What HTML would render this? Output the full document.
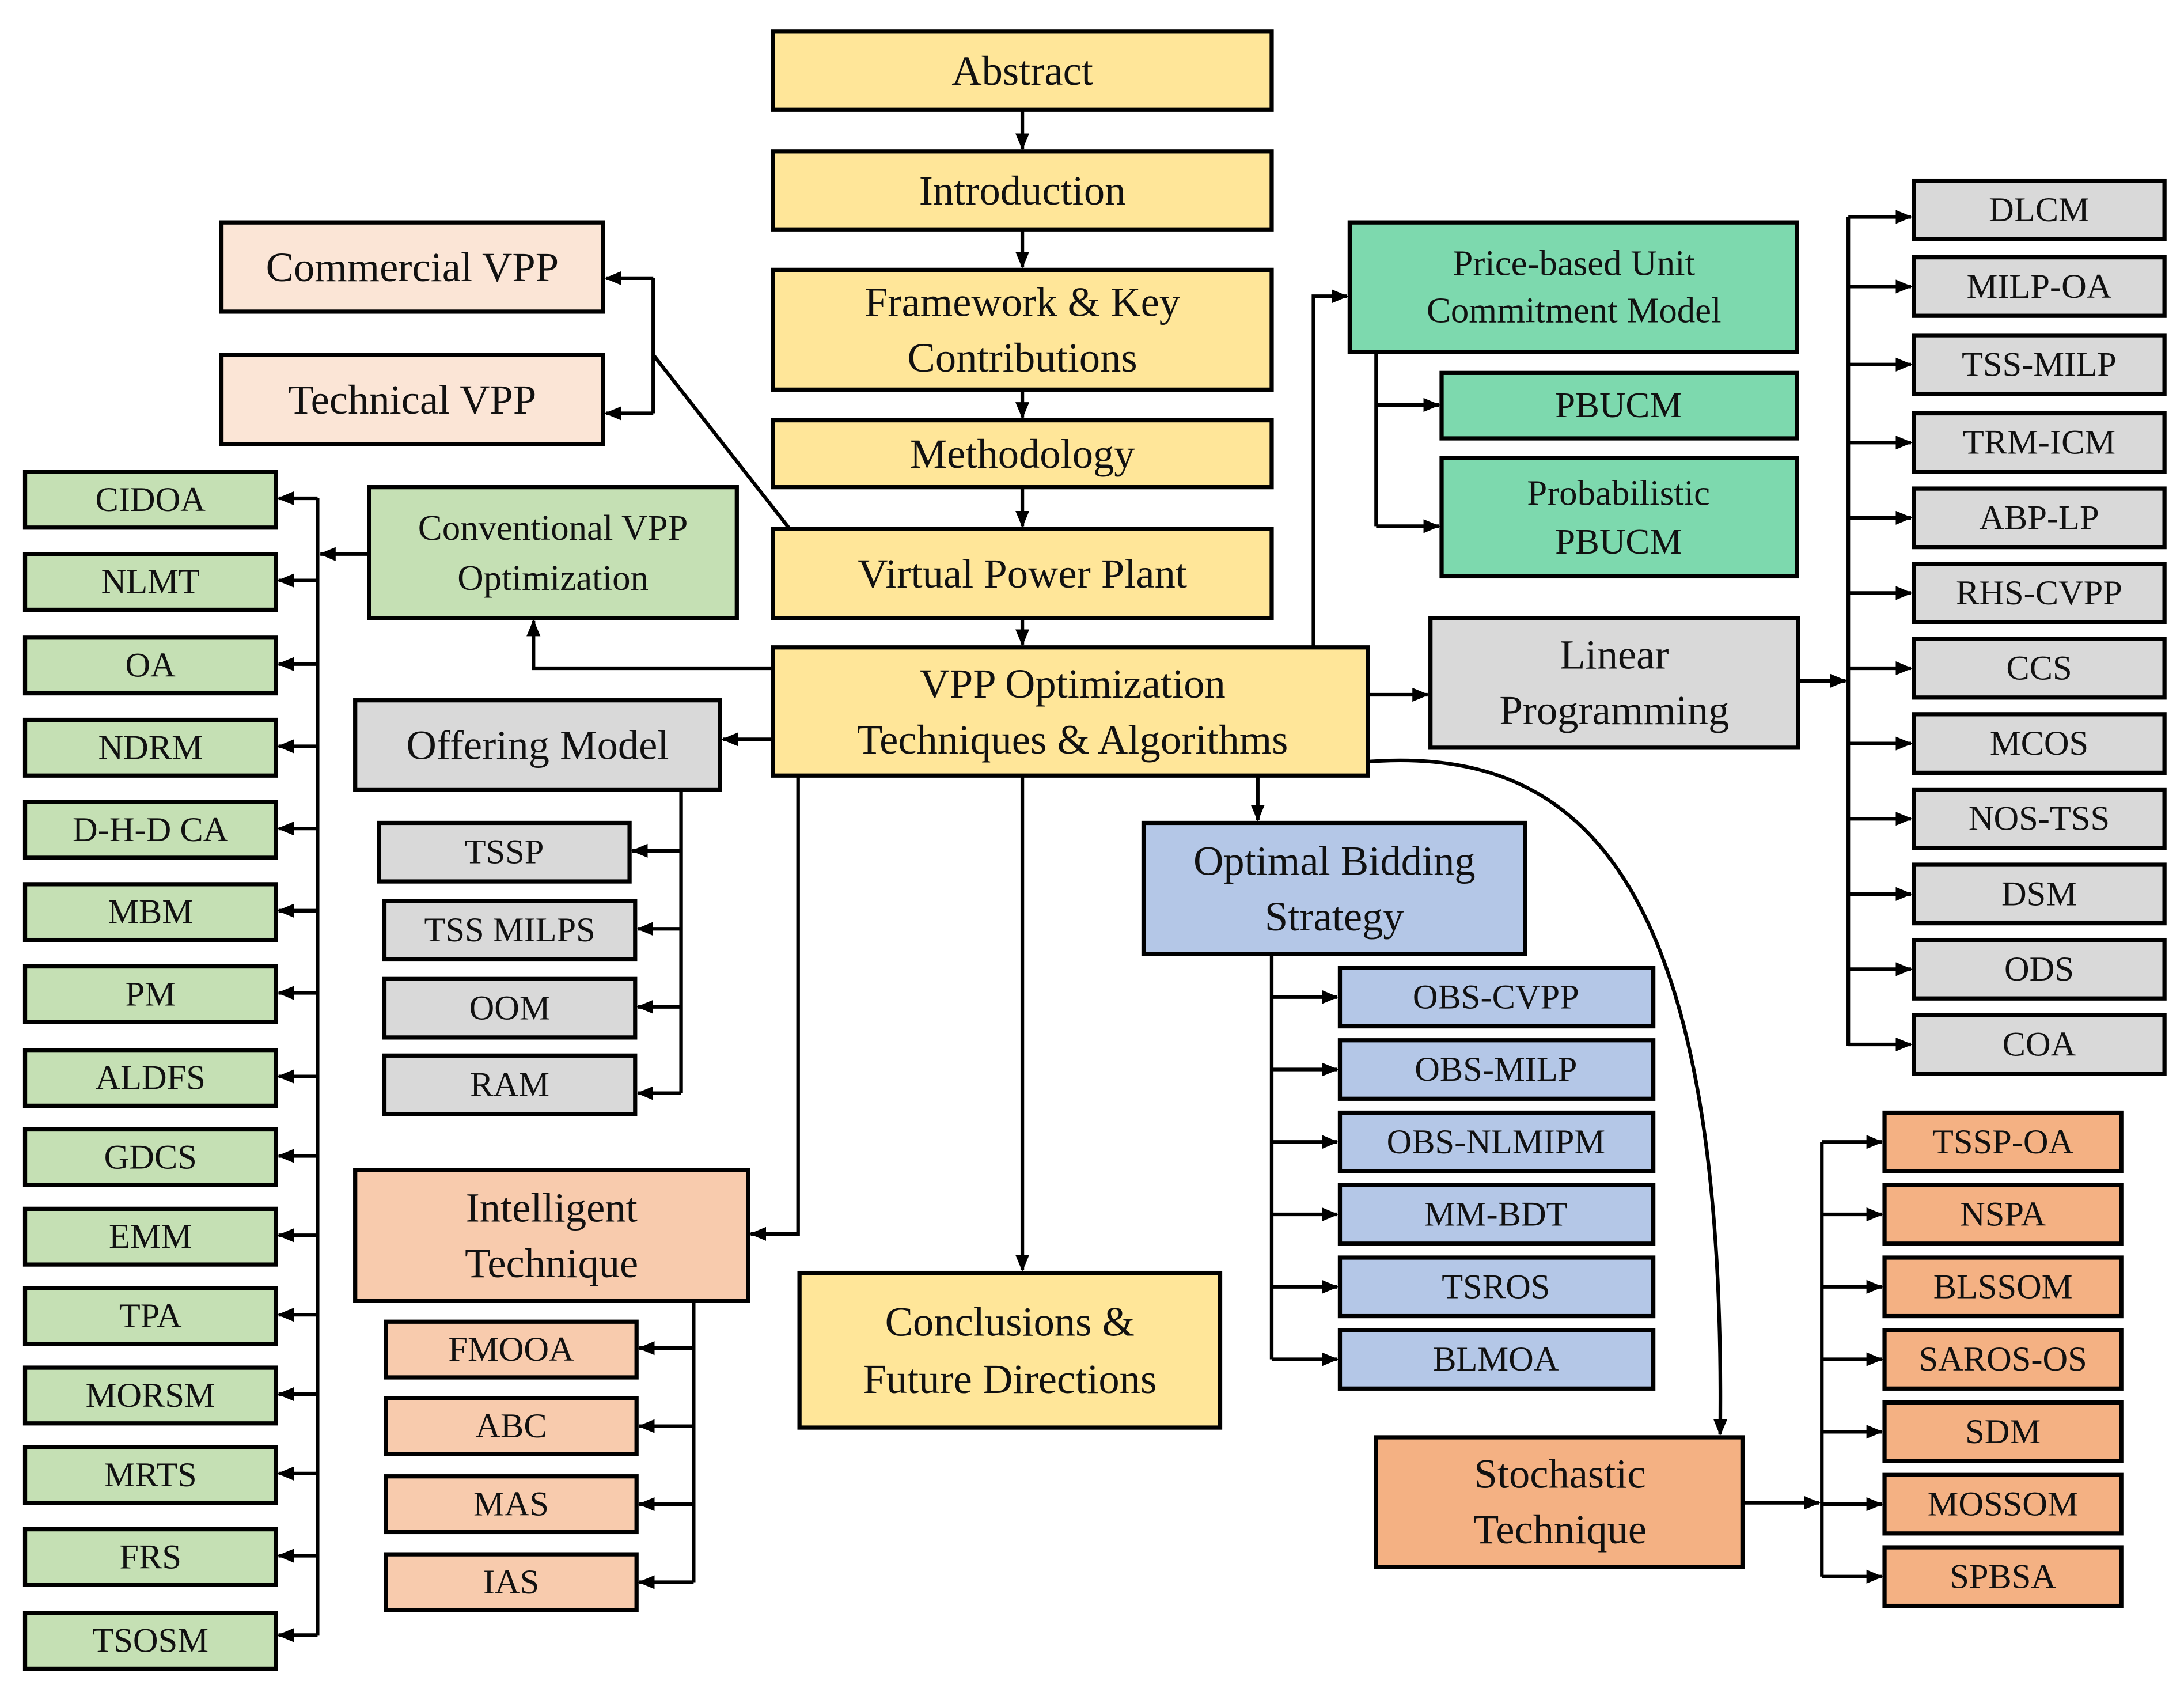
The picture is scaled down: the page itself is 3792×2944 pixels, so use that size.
<!DOCTYPE html>
<html><head><meta charset="utf-8"><style>
html,body{margin:0;padding:0;background:#fff}
svg{display:block}
text{font-family:"Liberation Serif",serif;fill:#111;text-anchor:middle;dominant-baseline:central}
.b{stroke:#000;stroke-width:3}
.l{stroke:#000;stroke-width:2.6;fill:none}
</style></head><body>
<svg width="3792" height="2944" viewBox="0 0 1568 1216" xmlns="http://www.w3.org/2000/svg">
<defs><marker id="a" viewBox="0 0 12 10" refX="11" refY="5" markerWidth="12" markerHeight="10" orient="auto" markerUnits="userSpaceOnUse"><path d="M0,0 L12,5 L0,10z" fill="#000"/></marker></defs>
<g id="lines">
<path class="l" d="M734,78V106" marker-end="url(#a)"/>
<path class="l" d="M734,164V191" marker-end="url(#a)"/>
<path class="l" d="M734,279V299" marker-end="url(#a)"/>
<path class="l" d="M734,349V377" marker-end="url(#a)"/>
<path class="l" d="M734,443V462" marker-end="url(#a)"/>
<path class="l" d="M734,556V911" marker-end="url(#a)"/>
<path class="l" d="M982,498H1025" marker-end="url(#a)"/>
<path class="l" d="M943,464V212H967" marker-end="url(#a)"/>
<path class="l" d="M988,252V377"/>
<path class="l" d="M988,290H1033" marker-end="url(#a)"/>
<path class="l" d="M988,377H1033" marker-end="url(#a)"/>
<path class="l" d="M903,556V588" marker-end="url(#a)"/>
<path class="l" d="M913,684V975"/>
<path class="l" d="M913,715H960" marker-end="url(#a)"/>
<path class="l" d="M913,767H960" marker-end="url(#a)"/>
<path class="l" d="M913,819H960" marker-end="url(#a)"/>
<path class="l" d="M913,871H960" marker-end="url(#a)"/>
<path class="l" d="M913,923H960" marker-end="url(#a)"/>
<path class="l" d="M913,975H960" marker-end="url(#a)"/>
<path class="l" d="M982,546 C1130,535 1240,620 1235,1029" marker-end="url(#a)"/>
<path class="l" d="M1291,488H1325" marker-end="url(#a)"/>
<path class="l" d="M1327,155V750"/>
<path class="l" d="M1327,155H1372" marker-end="url(#a)"/>
<path class="l" d="M1327,205H1372" marker-end="url(#a)"/>
<path class="l" d="M1327,261H1372" marker-end="url(#a)"/>
<path class="l" d="M1327,317H1372" marker-end="url(#a)"/>
<path class="l" d="M1327,371H1372" marker-end="url(#a)"/>
<path class="l" d="M1327,425H1372" marker-end="url(#a)"/>
<path class="l" d="M1327,479H1372" marker-end="url(#a)"/>
<path class="l" d="M1327,533H1372" marker-end="url(#a)"/>
<path class="l" d="M1327,587H1372" marker-end="url(#a)"/>
<path class="l" d="M1327,641H1372" marker-end="url(#a)"/>
<path class="l" d="M1327,695H1372" marker-end="url(#a)"/>
<path class="l" d="M1327,749H1372" marker-end="url(#a)"/>
<path class="l" d="M1251,1078H1306" marker-end="url(#a)"/>
<path class="l" d="M1308,819V1131"/>
<path class="l" d="M1308,819H1351" marker-end="url(#a)"/>
<path class="l" d="M1308,871H1351" marker-end="url(#a)"/>
<path class="l" d="M1308,923H1351" marker-end="url(#a)"/>
<path class="l" d="M1308,975H1351" marker-end="url(#a)"/>
<path class="l" d="M1308,1027H1351" marker-end="url(#a)"/>
<path class="l" d="M1308,1079H1351" marker-end="url(#a)"/>
<path class="l" d="M1308,1131H1351" marker-end="url(#a)"/>
<path class="l" d="M555,530H519" marker-end="url(#a)"/>
<path class="l" d="M555,479H383V445" marker-end="url(#a)"/>
<path class="l" d="M567,379L469,254"/>
<path class="l" d="M469,199V296"/>
<path class="l" d="M469,199H435" marker-end="url(#a)"/>
<path class="l" d="M469,296H435" marker-end="url(#a)"/>
<path class="l" d="M573,556V885H539" marker-end="url(#a)"/>
<path class="l" d="M489,566V784"/>
<path class="l" d="M489,610H454" marker-end="url(#a)"/>
<path class="l" d="M489,666H458" marker-end="url(#a)"/>
<path class="l" d="M489,722H458" marker-end="url(#a)"/>
<path class="l" d="M489,784H458" marker-end="url(#a)"/>
<path class="l" d="M498,933V1135"/>
<path class="l" d="M498,967H459" marker-end="url(#a)"/>
<path class="l" d="M498,1023H459" marker-end="url(#a)"/>
<path class="l" d="M498,1079H459" marker-end="url(#a)"/>
<path class="l" d="M498,1135H459" marker-end="url(#a)"/>
<path class="l" d="M265,397H230" marker-end="url(#a)"/>
<path class="l" d="M228,357V1173"/>
<path class="l" d="M228,357H200" marker-end="url(#a)"/>
<path class="l" d="M228,416H200" marker-end="url(#a)"/>
<path class="l" d="M228,476H200" marker-end="url(#a)"/>
<path class="l" d="M228,535H200" marker-end="url(#a)"/>
<path class="l" d="M228,594H200" marker-end="url(#a)"/>
<path class="l" d="M228,653H200" marker-end="url(#a)"/>
<path class="l" d="M228,712H200" marker-end="url(#a)"/>
<path class="l" d="M228,772H200" marker-end="url(#a)"/>
<path class="l" d="M228,829H200" marker-end="url(#a)"/>
<path class="l" d="M228,886H200" marker-end="url(#a)"/>
<path class="l" d="M228,943H200" marker-end="url(#a)"/>
<path class="l" d="M228,1000H200" marker-end="url(#a)"/>
<path class="l" d="M228,1057H200" marker-end="url(#a)"/>
<path class="l" d="M228,1116H200" marker-end="url(#a)"/>
<path class="l" d="M228,1173H200" marker-end="url(#a)"/>
</g>
<g id="boxes">
<rect class="b" x="555" y="22" width="358" height="56" fill="#FFE699"/><text x="734" y="50" font-size="30">Abstract</text>
<rect class="b" x="555" y="108" width="358" height="56" fill="#FFE699"/><text x="734" y="136" font-size="30">Introduction</text>
<rect class="b" x="555" y="193" width="358" height="86" fill="#FFE699"/><text x="734" y="216" font-size="30">Framework &amp; Key</text><text x="734" y="256" font-size="30">Contributions</text>
<rect class="b" x="555" y="301" width="358" height="48" fill="#FFE699"/><text x="734" y="325" font-size="30">Methodology</text>
<rect class="b" x="555" y="379" width="358" height="64" fill="#FFE699"/><text x="734" y="411" font-size="30">Virtual Power Plant</text>
<rect class="b" x="555" y="464" width="427" height="92" fill="#FFE699"/><text x="770" y="490" font-size="30">VPP Optimization</text><text x="770" y="530" font-size="30">Techniques &amp; Algorithms</text>
<rect class="b" x="574" y="913" width="302" height="111" fill="#FFE699"/><text x="725" y="948" font-size="30">Conclusions &amp;</text><text x="725" y="989" font-size="30">Future Directions</text>
<rect class="b" x="159" y="159" width="274" height="64" fill="#FBE5D6"/><text x="296" y="191" font-size="30">Commercial VPP</text>
<rect class="b" x="159" y="254" width="274" height="64" fill="#FBE5D6"/><text x="296" y="286" font-size="30">Technical VPP</text>
<rect class="b" x="265" y="349" width="264" height="94" fill="#C5E0B4"/><text x="397" y="378" font-size="26">Conventional VPP</text><text x="397" y="414" font-size="26">Optimization</text>
<rect class="b" x="255" y="502" width="262" height="64" fill="#D9D9D9"/><text x="386" y="534" font-size="30">Offering Model</text>
<rect class="b" x="272" y="590" width="180" height="42" fill="#D9D9D9"/><text x="362" y="611" font-size="25">TSSP</text>
<rect class="b" x="276" y="646" width="180" height="42" fill="#D9D9D9"/><text x="366" y="667" font-size="25">TSS MILPS</text>
<rect class="b" x="276" y="702" width="180" height="42" fill="#D9D9D9"/><text x="366" y="723" font-size="25">OOM</text>
<rect class="b" x="276" y="757" width="180" height="42" fill="#D9D9D9"/><text x="366" y="778" font-size="25">RAM</text>
<rect class="b" x="255" y="839" width="282" height="94" fill="#F8CBAD"/><text x="396" y="866" font-size="30">Intelligent</text><text x="396" y="906" font-size="30">Technique</text>
<rect class="b" x="277" y="948" width="180" height="40" fill="#F8CBAD"/><text x="367" y="968" font-size="25">FMOOA</text>
<rect class="b" x="277" y="1003" width="180" height="40" fill="#F8CBAD"/><text x="367" y="1023" font-size="25">ABC</text>
<rect class="b" x="277" y="1059" width="180" height="40" fill="#F8CBAD"/><text x="367" y="1079" font-size="25">MAS</text>
<rect class="b" x="277" y="1115" width="180" height="40" fill="#F8CBAD"/><text x="367" y="1135" font-size="25">IAS</text>
<g font-size="25">
<rect class="b" x="18" y="338" width="180" height="40" fill="#C5E0B4"/><text x="108" y="358">CIDOA</text>
<rect class="b" x="18" y="397" width="180" height="40" fill="#C5E0B4"/><text x="108" y="417">NLMT</text>
<rect class="b" x="18" y="457" width="180" height="40" fill="#C5E0B4"/><text x="108" y="477">OA</text>
<rect class="b" x="18" y="516" width="180" height="40" fill="#C5E0B4"/><text x="108" y="536">NDRM</text>
<rect class="b" x="18" y="575" width="180" height="40" fill="#C5E0B4"/><text x="108" y="595">D-H-D CA</text>
<rect class="b" x="18" y="634" width="180" height="40" fill="#C5E0B4"/><text x="108" y="654">MBM</text>
<rect class="b" x="18" y="693" width="180" height="40" fill="#C5E0B4"/><text x="108" y="713">PM</text>
<rect class="b" x="18" y="753" width="180" height="40" fill="#C5E0B4"/><text x="108" y="773">ALDFS</text>
<rect class="b" x="18" y="810" width="180" height="40" fill="#C5E0B4"/><text x="108" y="830">GDCS</text>
<rect class="b" x="18" y="867" width="180" height="40" fill="#C5E0B4"/><text x="108" y="887">EMM</text>
<rect class="b" x="18" y="924" width="180" height="40" fill="#C5E0B4"/><text x="108" y="944">TPA</text>
<rect class="b" x="18" y="981" width="180" height="40" fill="#C5E0B4"/><text x="108" y="1001">MORSM</text>
<rect class="b" x="18" y="1038" width="180" height="40" fill="#C5E0B4"/><text x="108" y="1058">MRTS</text>
<rect class="b" x="18" y="1097" width="180" height="40" fill="#C5E0B4"/><text x="108" y="1117">FRS</text>
<rect class="b" x="18" y="1157" width="180" height="40" fill="#C5E0B4"/><text x="108" y="1177">TSOSM</text>
</g>
<rect class="b" x="969" y="159" width="321" height="93" fill="#7DD9AE"/><text x="1130" y="188" font-size="26">Price-based Unit</text><text x="1130" y="222" font-size="26">Commitment Model</text>
<rect class="b" x="1035" y="267" width="255" height="47" fill="#7DD9AE"/><text x="1162" y="290" font-size="26">PBUCM</text>
<rect class="b" x="1035" y="328" width="255" height="85" fill="#7DD9AE"/><text x="1162" y="353" font-size="26">Probabilistic</text><text x="1162" y="388" font-size="26">PBUCM</text>
<rect class="b" x="1027" y="443" width="264" height="93" fill="#D9D9D9"/><text x="1159" y="469" font-size="30">Linear</text><text x="1159" y="509" font-size="30">Programming</text>
<g font-size="25">
<rect class="b" x="1374" y="129" width="180" height="42" fill="#D9D9D9"/><text x="1464" y="150">DLCM</text>
<rect class="b" x="1374" y="184" width="180" height="42" fill="#D9D9D9"/><text x="1464" y="205">MILP-OA</text>
<rect class="b" x="1374" y="240" width="180" height="42" fill="#D9D9D9"/><text x="1464" y="261">TSS-MILP</text>
<rect class="b" x="1374" y="296" width="180" height="42" fill="#D9D9D9"/><text x="1464" y="317">TRM-ICM</text>
<rect class="b" x="1374" y="350" width="180" height="42" fill="#D9D9D9"/><text x="1464" y="371">ABP-LP</text>
<rect class="b" x="1374" y="404" width="180" height="42" fill="#D9D9D9"/><text x="1464" y="425">RHS-CVPP</text>
<rect class="b" x="1374" y="458" width="180" height="42" fill="#D9D9D9"/><text x="1464" y="479">CCS</text>
<rect class="b" x="1374" y="512" width="180" height="42" fill="#D9D9D9"/><text x="1464" y="533">MCOS</text>
<rect class="b" x="1374" y="566" width="180" height="42" fill="#D9D9D9"/><text x="1464" y="587">NOS-TSS</text>
<rect class="b" x="1374" y="620" width="180" height="42" fill="#D9D9D9"/><text x="1464" y="641">DSM</text>
<rect class="b" x="1374" y="674" width="180" height="42" fill="#D9D9D9"/><text x="1464" y="695">ODS</text>
<rect class="b" x="1374" y="728" width="180" height="42" fill="#D9D9D9"/><text x="1464" y="749">COA</text>
</g>
<rect class="b" x="821" y="590" width="274" height="94" fill="#B4C7E7"/><text x="958" y="617" font-size="30">Optimal Bidding</text><text x="958" y="657" font-size="30">Strategy</text>
<g font-size="25">
<rect class="b" x="962" y="694" width="225" height="42" fill="#B4C7E7"/><text x="1074" y="715">OBS-CVPP</text>
<rect class="b" x="962" y="746" width="225" height="42" fill="#B4C7E7"/><text x="1074" y="767">OBS-MILP</text>
<rect class="b" x="962" y="798" width="225" height="42" fill="#B4C7E7"/><text x="1074" y="819">OBS-NLMIPM</text>
<rect class="b" x="962" y="850" width="225" height="42" fill="#B4C7E7"/><text x="1074" y="871">MM-BDT</text>
<rect class="b" x="962" y="902" width="225" height="42" fill="#B4C7E7"/><text x="1074" y="923">TSROS</text>
<rect class="b" x="962" y="954" width="225" height="42" fill="#B4C7E7"/><text x="1074" y="975">BLMOA</text>
</g>
<rect class="b" x="988" y="1031" width="263" height="93" fill="#F4B183"/><text x="1120" y="1057" font-size="30">Stochastic</text><text x="1120" y="1097" font-size="30">Technique</text>
<g font-size="25">
<rect class="b" x="1353" y="798" width="170" height="42" fill="#F4B183"/><text x="1438" y="819">TSSP-OA</text>
<rect class="b" x="1353" y="850" width="170" height="42" fill="#F4B183"/><text x="1438" y="871">NSPA</text>
<rect class="b" x="1353" y="902" width="170" height="42" fill="#F4B183"/><text x="1438" y="923">BLSSOM</text>
<rect class="b" x="1353" y="954" width="170" height="42" fill="#F4B183"/><text x="1438" y="975">SAROS-OS</text>
<rect class="b" x="1353" y="1006" width="170" height="42" fill="#F4B183"/><text x="1438" y="1027">SDM</text>
<rect class="b" x="1353" y="1058" width="170" height="42" fill="#F4B183"/><text x="1438" y="1079">MOSSOM</text>
<rect class="b" x="1353" y="1110" width="170" height="42" fill="#F4B183"/><text x="1438" y="1131">SPBSA</text>
</g>
</g>
</svg>
</body></html>
